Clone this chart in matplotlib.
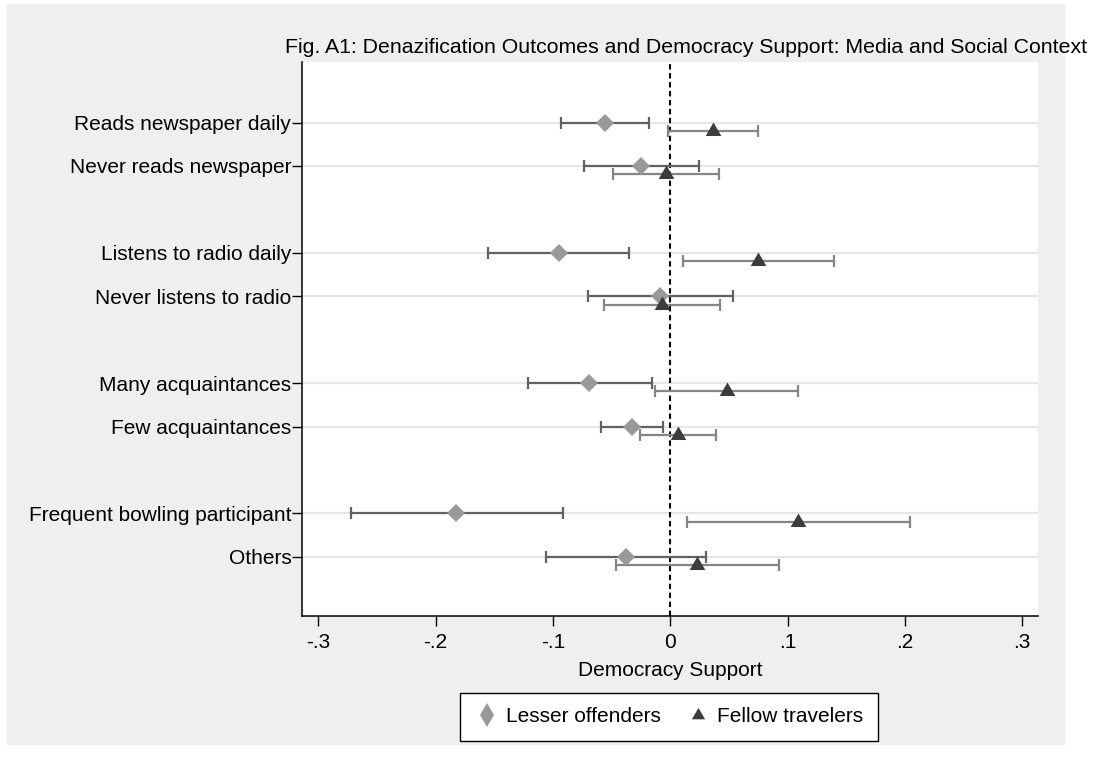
import matplotlib
matplotlib.use("Agg")
import matplotlib.pyplot as plt
from matplotlib.patches import Rectangle
from matplotlib.lines import Line2D

plt.rcParams['font.family'] = ['Liberation Sans', 'DejaVu Sans']

# ---------------- data ----------------
labels = ["Reads newspaper daily", "Never reads newspaper",
          "Listens to radio daily", "Never listens to radio",
          "Many acquaintances", "Few acquaintances",
          "Frequent bowling participant", "Others"]
rows = [0, 1, 3, 4, 6, 7, 9, 10]

lesser_est = [-0.056, -0.025, -0.095, -0.0085, -0.069, -0.033, -0.183, -0.038]
lesser_lo = [-0.093, -0.0735, -0.155, -0.070, -0.121, -0.059, -0.2726, -0.106]
lesser_hi = [-0.018, 0.0243, -0.035, 0.0536, -0.0156, -0.0062, -0.0917, 0.0305]

fellow_est = [0.036, -0.004, 0.075, -0.007, 0.0485, 0.0068, 0.109, 0.023]
fellow_lo = [-0.0022, -0.0487, 0.0106, -0.0564, -0.0128, -0.0256, 0.0145, -0.0467]
fellow_hi = [0.075, 0.0416, 0.1393, 0.0427, 0.1086, 0.0388, 0.204, 0.0929]

xticks = [-0.3, -0.2, -0.1, 0.0, 0.1, 0.2, 0.3]
xticklabels = ["-.3", "-.2", "-.1", "0", ".1", ".2", ".3"]

title = "Fig. A1: Denazification Outcomes and Democracy Support: Media and Social Context"
xlabel = "Democracy Support"
series_names = ["Lesser offenders", "Fellow travelers"]

# ---------------- style ----------------
W, H = 1094, 771
FS = 15
c_lesser_marker = '#999999'
c_lesser_ci = '#626262'
c_fellow_marker = '#3c3c3c'
c_fellow_ci = '#858585'
offset = 0.19

tri = [(-0.5, -0.2887), (0.5, -0.2887), (0.0, 0.5774)]

fig = plt.figure(figsize=(W / 100, H / 100), dpi=100)
fig.patch.set_facecolor('white')
fig.add_artist(Rectangle((7 / W, 1 - 745 / H), (1065 - 7) / W, (745 - 4) / H,
                         transform=fig.transFigure, facecolor='#efefef',
                         edgecolor='none', zorder=-5))

ax = fig.add_axes([301.7 / W, 1 - 616 / H, (1038 - 301.7) / W, (616 - 61.7) / H])
ax.set_facecolor('white')

fy = [r + offset for r in rows]

# confidence intervals
ax.errorbar(lesser_est, rows,
            xerr=[[e - l for e, l in zip(lesser_est, lesser_lo)],
                  [h - e for e, h in zip(lesser_est, lesser_hi)]],
            fmt='none', ecolor=c_lesser_ci, elinewidth=1.6, capsize=4,
            capthick=1.6, zorder=3)
ax.errorbar(fellow_est, fy,
            xerr=[[e - l for e, l in zip(fellow_est, fellow_lo)],
                  [h - e for e, h in zip(fellow_est, fellow_hi)]],
            fmt='none', ecolor=c_fellow_ci, elinewidth=1.6, capsize=4,
            capthick=1.6, zorder=3)

# markers
ax.plot(lesser_est, rows, linestyle='none', marker='D', markersize=8.8,
        color=c_lesser_marker, markeredgewidth=0, zorder=4)
ax.plot(fellow_est, fy, linestyle='none', marker=tri, markersize=13,
        color=c_fellow_marker, markeredgewidth=0, zorder=4)

# zero line
ax.axvline(0, color='black', linewidth=1.5, linestyle=(0, (2.6, 1.7)), zorder=2)

ax.set_xlim(-0.3142, 0.3134)
ax.set_ylim(11.36, -1.40)

ax.set_yticks(rows)
ax.set_yticklabels(labels, fontsize=FS)
ax.set_xticks(xticks)
ax.set_xticklabels(xticklabels, fontsize=FS)
ax.grid(axis='y', color='#e6e6e6', linewidth=1.6, zorder=1)
ax.set_axisbelow(True)

for s in ['top', 'right']:
    ax.spines[s].set_visible(False)
for s in ['left', 'bottom']:
    ax.spines[s].set_linewidth(1.1)
    ax.spines[s].set_color('black')

ax.tick_params(axis='both', direction='out', length=7.5, width=1.0, colors='black')
ax.tick_params(axis='y', pad=0)
ax.tick_params(axis='x', pad=5)

ax.set_xlabel(xlabel, fontsize=FS, labelpad=6)

fig.text(1087 / W, 1 - 53 / H, title, ha='right', va='baseline', fontsize=15.3)

handles = [
    Line2D([], [], linestyle='none', marker='d', markersize=12, color=c_lesser_marker,
           markeredgewidth=0),
    Line2D([], [], linestyle='none', marker=tri, markersize=11, color=c_fellow_marker,
           markeredgewidth=0),
]
leg = fig.legend(handles, series_names, loc='center',
                 bbox_to_anchor=(669 / W, 1 - 717 / H), ncol=2, fontsize=FS,
                 frameon=True, fancybox=False, edgecolor='black', facecolor='white',
                 framealpha=1, handletextpad=0.3, columnspacing=1.2,
                 borderpad=0.7, handlelength=1.2)
leg.get_frame().set_linewidth(1.0)

fig.savefig('out.png', dpi=100, facecolor=fig.get_facecolor())
